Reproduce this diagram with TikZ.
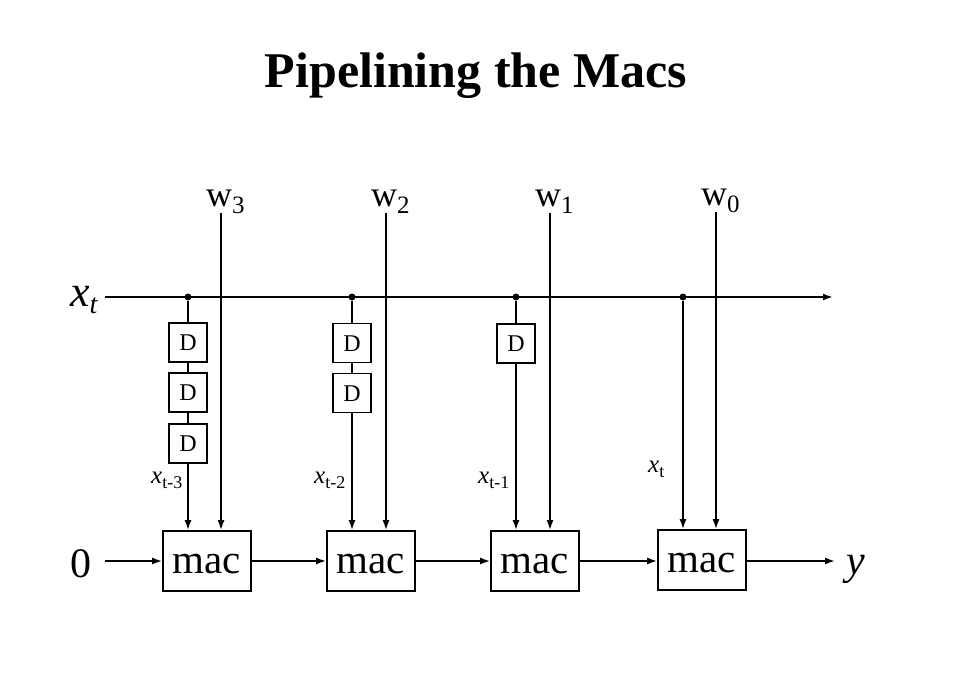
\documentclass[tikz,border=0pt]{standalone}
\usepackage{fontspec}
\setmainfont{Liberation Serif}
\usetikzlibrary{arrows.meta}
\begin{document}
\begin{tikzpicture}[x=1pt,y=-1pt,
  wire/.style={line width=1.7pt},
  arr/.style={wire,-{Latex[length=10pt,width=7pt]}},
  dbox/.style={draw,line width=1.7pt,minimum width=38pt,minimum height=39pt,inner sep=0pt,text height=16pt,text depth=0pt,font=\fontsize{24}{24}\selectfont},
  macbox/.style={draw,line width=1.7pt,minimum width=88pt,minimum height=60pt,inner sep=0pt,text height=24pt,text depth=0pt,font=\fontsize{41}{41}\selectfont},
  dot/.style={circle,fill,inner sep=0pt,minimum size=7pt},
  lab/.style={inner sep=0pt}]
\useasboundingbox (0,0) rectangle (962,682);
\node[lab] (title) at (476,76) {\fontsize{50}{50}\selectfont\bfseries Pipelining the Macs};

% input line
\node[lab,anchor=base west] (xt) at (70,306) {\fontsize{44}{44}\selectfont\itshape x\raisebox{-7pt}{\fontsize{28}{28}\selectfont t}};
\coordinate (xstart) at (105,297);
\coordinate (xend) at (833,297);
\node[dot] (p1) at (188,297) {};
\node[dot] (p2) at (352,297) {};
\node[dot] (p3) at (516,297) {};
\node[dot] (p4) at (683,297) {};
\draw[arr,line width=2.2pt] (xstart) -- (xend);

% mac boxes
\node[macbox] (m1) at (207,561) {mac};
\node[macbox] (m2) at (371,561) {mac};
\node[macbox] (m3) at (535,561) {mac};
\node[macbox] (m4) at (702,560) {mac};

% delay boxes
\node[dbox] (d11) at (188,342.5) {D};
\node[dbox] (d12) at (188,392.5) {D};
\node[dbox] (d13) at (188,443.5) {D};
\node[dbox] (d21) at (352,343) {D};
\node[dbox] (d22) at (352,393) {D};
\node[dbox] (d31) at (516,343.5) {D};

\draw[wire] (p1) -- (d11.north);
\draw[wire] (d11.south) -- (d12.north);
\draw[wire] (d12.south) -- (d13.north);
\draw[arr] (d13.south) -- (d13.south |- m1.north);
\draw[wire] (p2) -- (d21.north);
\draw[wire] (d21.south) -- (d22.north);
\draw[arr] (d22.south) -- (d22.south |- m2.north);
\draw[wire] (p3) -- (d31.north);
\draw[arr] (d31.south) -- (d31.south |- m3.north);
\draw[arr] (p4) -- (p4 |- m4.north);

% weights
\coordinate (w3t) at (221,213);
\coordinate (w2t) at (386,213);
\coordinate (w1t) at (550,213);
\coordinate (w0t) at (716,212);
\draw[arr] (w3t) -- (w3t |- m1.north);
\draw[arr] (w2t) -- (w2t |- m2.north);
\draw[arr] (w1t) -- (w1t |- m3.north);
\draw[arr] (w0t) -- (w0t |- m4.north);
\node[lab,anchor=base west] (w3) at (206,207) {\fontsize{36}{36}\selectfont w\raisebox{-7pt}{\fontsize{25}{25}\selectfont 3}};
\node[lab,anchor=base west] (w2) at (371,207) {\fontsize{36}{36}\selectfont w\raisebox{-7pt}{\fontsize{25}{25}\selectfont 2}};
\node[lab,anchor=base west] (w1) at (535,207) {\fontsize{36}{36}\selectfont w\raisebox{-7pt}{\fontsize{25}{25}\selectfont 1}};
\node[lab,anchor=base west] (w0) at (701,206) {\fontsize{36}{36}\selectfont w\raisebox{-7pt}{\fontsize{25}{25}\selectfont 0}};

% tap labels
\node[lab,anchor=base west] (l3) at (151,483) {\fontsize{25}{25}\selectfont\itshape x\raisebox{-5pt}{\upshape\fontsize{18}{18}\selectfont t-3}};
\node[lab,anchor=base west] (l2) at (314,483) {\fontsize{25}{25}\selectfont\itshape x\raisebox{-5pt}{\upshape\fontsize{18}{18}\selectfont t-2}};
\node[lab,anchor=base west] (l1) at (478,483) {\fontsize{25}{25}\selectfont\itshape x\raisebox{-5pt}{\upshape\fontsize{18}{18}\selectfont t-1}};
\node[lab,anchor=base west] (l0) at (648,472) {\fontsize{25}{25}\selectfont\itshape x\raisebox{-5pt}{\upshape\fontsize{18}{18}\selectfont t}};

% accumulate chain
\node[lab,anchor=base east] (zero) at (92,577) {\fontsize{42}{42}\selectfont 0};
\coordinate (zstart) at (105,561);
\coordinate (yend) at (835,561);
\node[lab,anchor=base west] (y) at (846,574) {\fontsize{42}{42}\selectfont\itshape y};
\draw[arr] (zstart) -- (m1.west);
\draw[arr] (m1.east) -- (m2.west);
\draw[arr] (m2.east) -- (m3.west);
\draw[arr] (m3.east) -- (m3.east -| m4.west);
\draw[arr] (m4.east |- yend) -- (yend);
\end{tikzpicture}
\end{document}
